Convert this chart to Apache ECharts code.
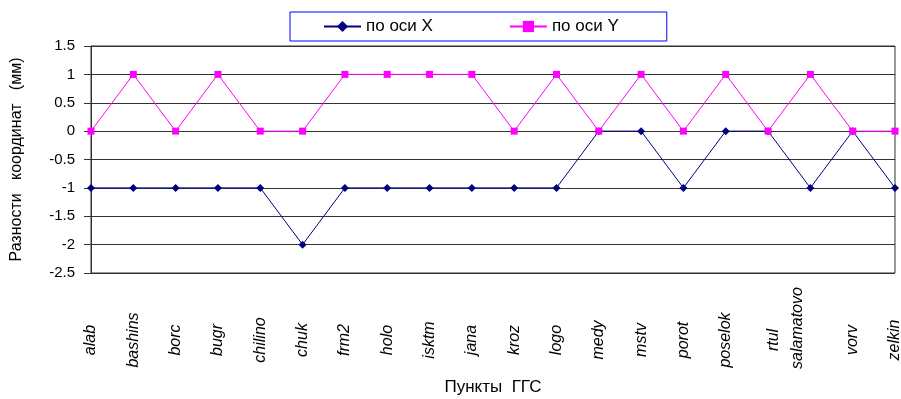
<!DOCTYPE html>
<html>
<head>
<meta charset="utf-8">
<script src="https://cdn.jsdelivr.net/npm/echarts@6/dist/echarts.min.js"></script>
<style>
html,body{margin:0;padding:0;background:#fff;}
#chart{width:901px;height:399px;}
</style>
</head>
<body>
<div id="chart"></div>
<script>
// Пункты ГГС
const categories = ['alab','bashins','borc','bugr','chilino','chuk','frm2','holo','isktm','jana',
  'kroz','logo','medy','mstv','porot','poselok','rtul','salamatovo','vorv','zelkin'];
// Разности координат, мм
const diffX = [-1,-1,-1,-1,-1,-2,-1,-1,-1,-1,-1,-1,0,0,-1,0,0,-1,0,-1];
const diffY = [0,1,0,1,0,0,1,1,1,1,0,1,0,1,0,1,0,1,0,0];
const yTicks = { min: -2.5, max: 1.5, step: 0.5 };

const FONT = '"Liberation Sans", Arial, sans-serif';
const chart = echarts.init(document.getElementById('chart'), null, { renderer: 'canvas' });

chart.setOption({
  animation: false,
  backgroundColor: '#ffffff',
  legend: {
    left: 290,
    top: 12,
    padding: [6, 48, 6, 33],
    itemGap: 76,
    itemWidth: 37,
    itemHeight: 14,
    borderColor: '#0000ff',
    borderWidth: 1,
    textStyle: { fontFamily: FONT, fontSize: 17, color: '#000' },
    data: ['по оси X', 'по оси Y']
  },
  grid: {
    left: 91, right: 6, top: 46, height: 227,
    outerBoundsMode: 'none',
    containLabel: false,
    show: true, borderColor: '#333', borderWidth: 1
  },
  xAxis: {
    type: 'category',
    data: categories,
    boundaryGap: false,
    name: 'Пункты  ГГС',
    nameLocation: 'middle',
    nameGap: 106,
    nameTextStyle: { fontFamily: FONT, fontSize: 17, color: '#000' },
    axisLine: { lineStyle: { color: '#333', width: 1 } },
    axisTick: { show: false },
    axisLabel: {
      interval: 0,
      rotate: 90,
      align: 'center',
      verticalAlign: 'middle',
      margin: 67,
      fontFamily: FONT,
      fontSize: 16,
      fontStyle: 'italic',
      color: '#000',
      formatter: function (v) {
        if (v === 'salamatovo') return '{s|' + v + '}';
        if (v === 'rtul') return '{r|' + v + '}';
        return v;
      },
      rich: {
        s: { fontFamily: FONT, fontSize: 16, fontStyle: 'italic', color: '#000', padding: [0, 0, 26, 24] },
        r: { fontFamily: FONT, fontSize: 16, fontStyle: 'italic', color: '#000', padding: [10, 0, 0, 0] }
      }
    },
    splitLine: { show: false }
  },
  yAxis: {
    type: 'value',
    min: yTicks.min,
    max: yTicks.max,
    interval: yTicks.step,
    name: 'Разности   координат   (мм)',
    nameLocation: 'middle',
    nameGap: 66,
    nameTextStyle: { fontFamily: FONT, fontSize: 16, color: '#000' },
    axisLine: { show: true, lineStyle: { color: '#333', width: 1 } },
    axisTick: { show: true, length: 7, lineStyle: { color: '#333' } },
    axisLabel: { margin: 16, fontFamily: FONT, fontSize: 15, color: '#000' },
    splitLine: { show: true, lineStyle: { color: '#333', width: 1 } }
  },
  series: [
    {
      name: 'по оси X',
      type: 'line',
      data: diffX,
      symbol: 'diamond',
      symbolSize: 8,
      lineStyle: { color: '#000080', width: 1 },
      itemStyle: { color: '#000080' }
    },
    {
      name: 'по оси Y',
      type: 'line',
      data: diffY,
      symbol: 'rect',
      symbolSize: 7,
      lineStyle: { color: '#ff00ff', width: 1 },
      itemStyle: { color: '#ff00ff' }
    }
  ]
});
</script>
</body>
</html>
